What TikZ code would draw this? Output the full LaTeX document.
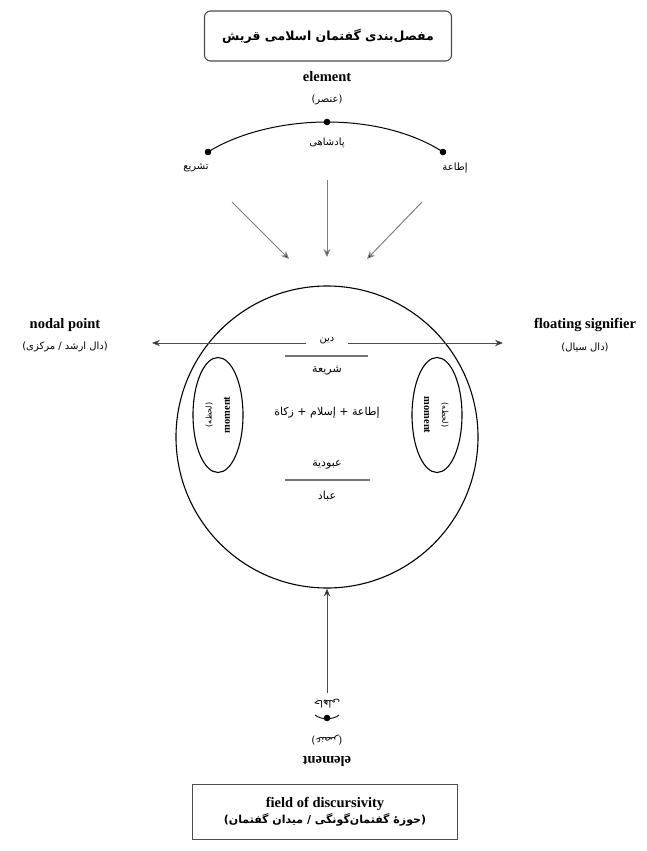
\documentclass[tikz,border=0pt]{standalone}
\usepackage{fontspec}
\setmainfont{Liberation Serif}
\newfontfamily\arabicfont[Script=Arabic]{DejaVu Sans}
\TeXXeTstate=1
\usetikzlibrary{arrows.meta,shapes.geometric}
\newcommand{\ar}[1]{{\arabicfont\beginR #1\endR}}
\begin{document}
\begin{tikzpicture}[x=1pt,y=-1pt,
  lat/.style={font=\fontsize{14.5}{16}\selectfont\bfseries, inner sep=1pt},
  arsmall/.style={font=\fontsize{10}{12}\selectfont, inner sep=1pt},
  armid/.style={font=\fontsize{11}{13}\selectfont, inner sep=1pt},
  garrow/.style={draw=black!50, line width=1pt, -{Stealth[length=8pt,width=7pt,fill=black]}},
  barrow/.style={draw=black!70, line width=0.9pt, -{Stealth[length=8pt,width=6.5pt,fill=black]}}]
\useasboundingbox (0,0) rectangle (646,851);
% top box
\node[draw=black!70, line width=1.1pt, rounded corners=6pt, minimum width=247pt, minimum height=50pt,
  font=\fontsize{12.5}{14}\selectfont\bfseries] (topbox) at (328,36) {\ar{مفصل‌بندی گفتمان اسلامی قریش}};
\node[lat] (el) at (327,77) {element};
\node[arsmall] (elar) at (327,100) {\ar{(عنصر)}};
\coordinate (dl) at (208,152);
\coordinate (dc) at (327,122);
\coordinate (dr) at (443,152);
\draw[line width=1pt] (dl) .. controls (240,132) and (285,122) .. (dc) .. controls (370,122) and (412,132) .. (dr);
\fill (dl) circle (3.3pt);
\fill (dc) circle (3.3pt);
\fill (dr) circle (3.3pt);
\node[arsmall] (pad) at (327,143) {\ar{پادشاهی}};
\node[arsmall] (tash) at (196,168) {\ar{تشریع}};
\node[arsmall] (eta) at (455,168) {\ar{إطاعة}};
% arrows down
\coordinate (a1s) at (232,202); \coordinate (a1e) at (289,259);
\coordinate (a2s) at (327,180); \coordinate (a2e) at (327,257);
\coordinate (a3s) at (422,202); \coordinate (a3e) at (367,259);
\draw[garrow] (a1s) -- (a1e);
\draw[garrow] (a2s) -- (a2e);
\draw[garrow] (a3s) -- (a3e);
% big circle
\node[draw, circle, line width=1.1pt, minimum size=302pt, inner sep=0pt] (big) at (327,437) {};
% nodal / floating
\node[lat] (nodal) at (65,325) {nodal point};
\node[arsmall] (nodalar) at (65,347) {\ar{(دال ارشد / مرکزی)}};
\node[lat] (float) at (585,325) {floating signifier};
\node[arsmall] (floatar) at (585,347) {\ar{(دال سیال)}};
\node[arsmall] (din) at (327,341) {\ar{دین}};
\coordinate (lt) at (152,343);
\coordinate (rt) at (503,343);
\draw[barrow] (din.west) ++(-12,2) -- (lt);
\draw[barrow] (din.east) ++(12,2) -- (rt);
\coordinate (l1a) at (285,356); \coordinate (l1b) at (368,356);
\draw[black!55, line width=1.1pt] (l1a) -- (l1b);
\node[armid] (shar) at (327,371) {\ar{شريعة}};
\node[armid] (mid) at (327,413) {\ar{إطاعة + إسلام + زكاة}};
\node[armid] (obud) at (327,465) {\ar{عبودية}};
\coordinate (l2a) at (285,480); \coordinate (l2b) at (370,480);
\draw[black!55, line width=1.1pt] (l2a) -- (l2b);
\node[armid] (ebad) at (327,496) {\ar{عباد}};
% small ellipses
\node[draw, ellipse, line width=1.1pt, minimum width=50pt, minimum height=115pt, inner sep=0pt] (elL) at (218,415) {};
\node[draw, ellipse, line width=1.1pt, minimum width=50pt, minimum height=115pt, inner sep=0pt] (elR) at (437,415) {};
\node[font=\fontsize{10.5}{11}\selectfont\bfseries, rotate=90, inner sep=0pt] (momL) at (227,415) {moment};
\node[font=\fontsize{8}{9}\selectfont, rotate=90, inner sep=0pt] (momLa) at (209,415) {\ar{(لحظه)}};
\node[font=\fontsize{10.5}{11}\selectfont\bfseries, rotate=-90, inner sep=0pt] (momR) at (427,415) {moment};
\node[font=\fontsize{8}{9}\selectfont, rotate=-90, inner sep=0pt] (momRa) at (445,415) {\ar{(لحظه)}};
% bottom
\coordinate (bs) at (327,693);
\draw[barrow] (bs) -- (big.south);
\node[arsmall, rotate=180] (jah) at (327,704) {\ar{جاهلی}};
\coordinate (bd) at (327,718);
\fill (bd) circle (3.3pt);
\draw[line width=0.9pt] (315,715) .. controls (321,720) and (333,720) .. (339,715);
\node[arsmall, rotate=180] (elar2) at (327,740) {\ar{(عنصر)}};
\node[lat, rotate=180] (el2) at (327,761) {element};
\node[draw=black!70, line width=1.1pt, minimum width=265pt, minimum height=55pt, align=center, inner sep=2pt] (field) at (325,812)
  {{\fontsize{14.5}{16}\selectfont\bfseries field of discursivity}\\[2pt]{\fontsize{11}{13}\selectfont\bfseries\ar{(حوزهٔ گفتمان‌گونگی / میدان گفتمان)}}};
\end{tikzpicture}
\end{document}
